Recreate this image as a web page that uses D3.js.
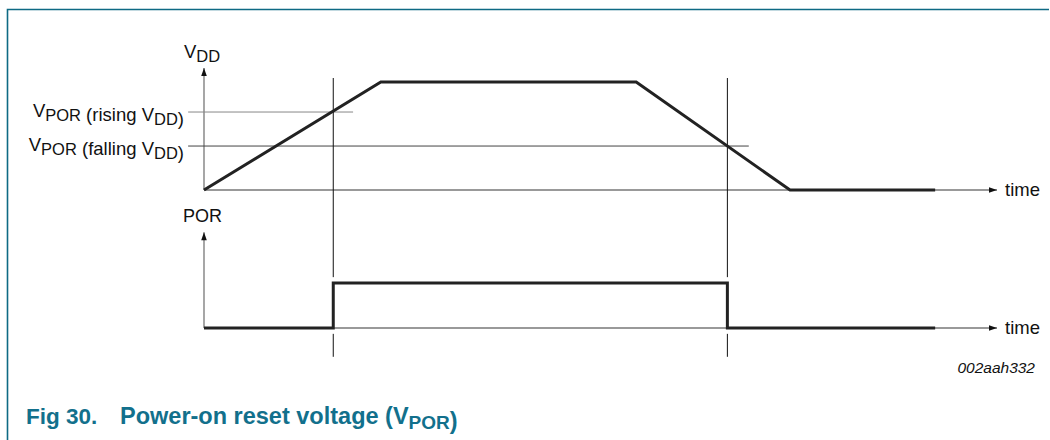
<!DOCTYPE html>
<html lang="en">
<meta charset="utf-8">
<style>
body { margin: 0; background: #fff; }
svg text { font-family: "Liberation Sans", Arial, sans-serif; fill: #111; }
.wave { fill: none; stroke: #222; stroke-width: 3px; stroke-linejoin: miter; }
.axis { fill: none; stroke: #777; stroke-width: 1.3px; }
.thin { fill: none; stroke: #111; stroke-width: 1px; }
.frame { fill: none; stroke: #0e6a84; stroke-width: 1.6px; }
</style>
<body>
<script src="https://d3js.org/d3.v7.min.js"></script>
<script>
// time in arbitrary units, levels normalised to 1 = full VDD / POR high
var vddTime  = [0, 22.3, 54.5, 73.9, 92.2];
var vddLevel = [0, 1, 1, 0, 0];
var porTime  = [0, 16.3, 16.3, 66.0, 66.0, 92.2];
var porLevel = [0, 0, 1, 1, 0, 0];

var thresholdLevel = [0.722, 0.407];
var thresholdEnd   = [18.8, 68.7];
var thresholdLabel = [
  [["V", 0], ["POR", 1], [" (rising V", 0], ["DD", 1], [")", 0]],
  [["V", 0], ["POR", 1], [" (falling V", 0], ["DD", 1], [")", 0]]
];
var markerTime = [16.3, 66.0];

var width = 1050, height = 440;

var svg = d3.select("body").append("svg")
    .attr("width", width)
    .attr("height", height);

var x = d3.scaleLinear().domain([0, 100]).range([204, 997]);
var yV = d3.scaleLinear().domain([0, 1]).range([190, 82]);
var yP = d3.scaleLinear().domain([0, 1]).range([328, 283]);

var defs = svg.append("defs");
defs.append("marker")
    .attr("id", "arrow")
    .attr("viewBox", "0 0 10 10")
    .attr("refX", 10).attr("refY", 5)
    .attr("markerWidth", 10).attr("markerHeight", 8)
    .attr("markerUnits", "userSpaceOnUse")
    .attr("orient", "auto")
  .append("path")
    .attr("d", "M0,1.5L10,5L0,8.5Z")
    .attr("fill", "#111");

// frame
svg.append("path").attr("class", "frame")
    .attr("d", "M7.5,440V9.5H1049");

// subscripted text helper
function richText(g, parts, size, subSize, shift) {
  var t = g.append("text").style("font-size", size + "px");
  parts.forEach(function(p) {
    t.append("tspan")
      .attr("dy", p[1] ? shift : 0)
      .style("font-size", (p[1] ? subSize : size) + "px")
      .text(p[0]);
    if (p[1]) t.append("tspan").attr("dy", -shift).text("");
  });
  return t;
}

// axes
svg.append("line").attr("class", "axis")
    .attr("x1", x(0)).attr("x2", x(0))
    .attr("y1", yV(0)).attr("y2", yV(1.13))
    .attr("marker-end", "url(#arrow)");
svg.append("line").attr("class", "axis")
    .attr("x1", x(0)).attr("x2", x(100))
    .attr("y1", yV(0)).attr("y2", yV(0))
    .attr("marker-end", "url(#arrow)");
svg.append("line").attr("class", "axis")
    .attr("x1", x(0)).attr("x2", x(0))
    .attr("y1", yP(0)).attr("y2", yP(2.13))
    .attr("marker-end", "url(#arrow)");
svg.append("line").attr("class", "axis")
    .attr("x1", x(0)).attr("x2", x(100))
    .attr("y1", yP(0)).attr("y2", yP(0))
    .attr("marker-end", "url(#arrow)");

// threshold lines
thresholdLevel.forEach(function(lv, i) {
  svg.append("line")
      .attr("class", "axis")
      .style("stroke", i === 0 ? "#888" : "#444")
      .style("stroke-width", 1)
      .attr("x1", x(-2)).attr("x2", x(thresholdEnd[i]))
      .attr("y1", yV(lv)).attr("y2", yV(lv));
  richText(svg, thresholdLabel[i], 18.5, 16.5, 4)
      .attr("x", 184).attr("y", yV(lv) + 5)
      .attr("text-anchor", "end");
});

// marker verticals, broken around the POR step
markerTime.forEach(function(t) {
  svg.append("line").attr("class", "thin")
      .attr("x1", x(t)).attr("x2", x(t))
      .attr("y1", yV(1.037)).attr("y2", yP(1.13));
  svg.append("line").attr("class", "thin")
      .attr("x1", x(t)).attr("x2", x(t))
      .attr("y1", yP(-0.13)).attr("y2", yP(-0.64));
});

// waveforms
var vddLine = d3.line()
    .x(function(d, i) { return x(vddTime[i]); })
    .y(function(d) { return yV(d); });
svg.append("path").attr("class", "wave").attr("d", vddLine(vddLevel));

var porLine = d3.line()
    .x(function(d, i) { return x(porTime[i]); })
    .y(function(d) { return yP(d); });
svg.append("path").attr("class", "wave").attr("d", porLine(porLevel));

// axis labels
richText(svg, [["V", 0], ["DD", 1]], 18.5, 16.5, 4)
    .attr("x", 184).attr("y", 58);
svg.append("text").attr("x", 183).attr("y", 222)
    .style("font-size", "18px").text("POR");
svg.append("text").attr("x", 1005).attr("y", yV(0) + 6)
    .style("font-size", "18.5px").text("time");
svg.append("text").attr("x", 1005).attr("y", yP(0) + 6)
    .style("font-size", "18.5px").text("time");

svg.append("text").attr("x", 1035).attr("y", 373)
    .attr("text-anchor", "end")
    .style("font-size", "15.5px").style("font-style", "italic")
    .text("002aah332");

// caption
var capStyle = function(t) {
  t.style("font-weight", "bold").selectAll("tspan").style("fill", "#12708c");
  return t;
};
capStyle(richText(svg, [["Fig 30.", 0]], 22.5, 19, 5))
    .attr("x", 26).attr("y", 424);
capStyle(richText(svg, [["Power-on reset voltage (V", 0], ["POR", 1], [")", 0]], 23.5, 19, 5))
    .attr("x", 120).attr("y", 424);
</script>
</body>
</html>
